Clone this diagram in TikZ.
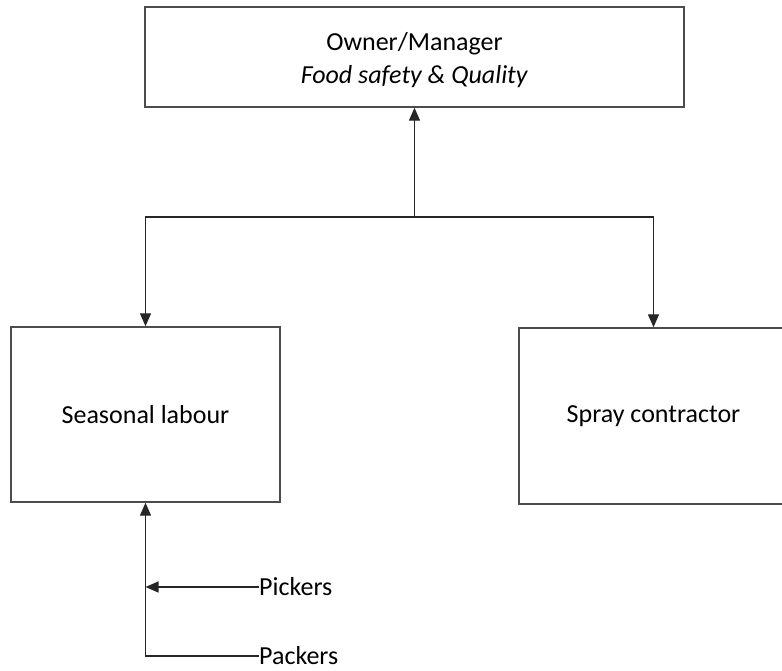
\documentclass[tikz,border=0pt]{standalone}
\usepackage{fontspec}
\setmainfont{Carlito}
\usetikzlibrary{arrows.meta}
\begin{document}
\begin{tikzpicture}[x=1pt,y=-1pt,
  box/.style={draw=black!70,line width=1.4pt,inner sep=0pt,align=center,
    font=\fontsize{26}{33}\selectfont},
  conn/.style={draw=black!85,line width=1.3pt},
  tip/.style={-{Triangle[length=13pt,width=11pt]}},
  lbl/.style={inner sep=0pt,anchor=west,font=\fontsize{26}{31}\selectfont}]
\useasboundingbox (0,0) rectangle (782,671);
\node[box,minimum width=539pt,minimum height=100pt] (top) at (414.5,57)
  {\rule{0pt}{25pt}Owner/Manager\\\textit{Food safety \& Quality}};
\node[box,minimum width=269pt,minimum height=175pt] (seas) at (145.5,414.5) {Seasonal labour};
\node[box,minimum width=269pt,minimum height=176pt] (spray) at (653.5,416) {Spray contractor};
\coordinate (j) at (top.south |- 0,217);
\draw[conn,tip] (j) -- (top.south);
\draw[conn,tip] (j) -| (seas.north);
\draw[conn,tip] (j) -| (spray.north);
\node[lbl] (pick) at (259,587) {Pickers};
\node[lbl] (pack) at (259,656) {Packers};
\draw[conn,tip] (pick.west) -- (seas.south |- pick.west);
\draw[conn,tip] (pack.west) -| (seas.south);
\end{tikzpicture}
\end{document}
